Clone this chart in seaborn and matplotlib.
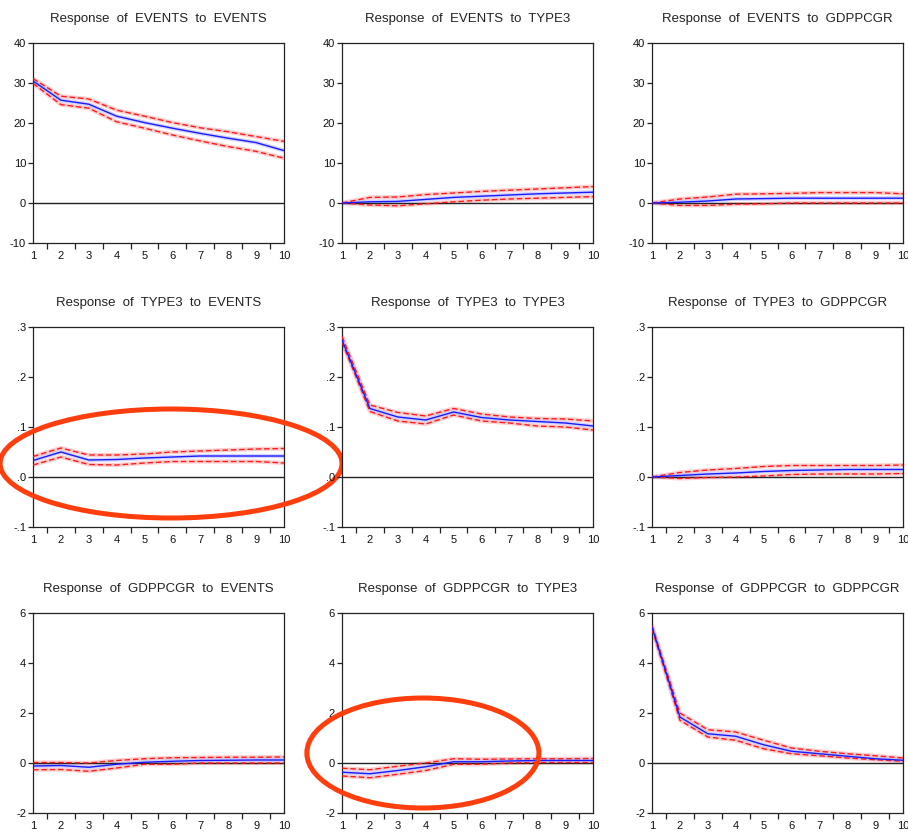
import numpy as np
import pandas as pd
import matplotlib
matplotlib.use("Agg")
import matplotlib.pyplot as plt
from matplotlib.patches import Ellipse
from matplotlib.ticker import FixedLocator, FuncFormatter
import seaborn as sns

sns.set_style("white")
plt.rcParams["font.family"] = ["Liberation Sans", "DejaVu Sans"]

# Impulse-response horizon
periods = list(range(1, 11))
variables = ["EVENTS", "TYPE3", "GDPPCGR"]

# Responses (blue) and +/- 2 S.E. bands (red dashed), one block per (response, impulse)
events_events = [30.5, 25.7, 24.7, 21.7, 20.1, 18.7, 17.4, 16.2, 15.1, 13.1]
events_events_hi = [31.1, 26.7, 26.0, 23.2, 21.7, 20.1, 18.8, 17.8, 16.6, 15.4]
events_events_lo = [29.9, 24.6, 23.7, 20.3, 18.7, 17.0, 15.5, 14.1, 12.9, 11.2]

events_type3 = [0.0, 0.3, 0.4, 0.9, 1.4, 1.7, 2.0, 2.3, 2.5, 2.7]
events_type3_hi = [0.0, 1.4, 1.5, 2.1, 2.5, 2.9, 3.2, 3.5, 3.8, 4.1]
events_type3_lo = [0.0, -0.5, -0.7, -0.2, 0.3, 0.7, 1.0, 1.2, 1.4, 1.6]

events_gdp = [0.0, 0.2, 0.5, 1.0, 1.1, 1.2, 1.2, 1.2, 1.2, 1.2]
events_gdp_hi = [0.0, 1.0, 1.5, 2.2, 2.3, 2.4, 2.6, 2.6, 2.6, 2.3]
events_gdp_lo = [0.0, -0.6, -0.6, -0.3, -0.2, 0.0, 0.0, 0.0, 0.0, 0.0]

type3_events = [0.033, 0.050, 0.034, 0.035, 0.038, 0.040, 0.042, 0.042, 0.042, 0.042]
type3_events_hi = [0.041, 0.058, 0.044, 0.044, 0.046, 0.050, 0.052, 0.054, 0.056, 0.057]
type3_events_lo = [0.024, 0.040, 0.025, 0.024, 0.028, 0.031, 0.031, 0.031, 0.031, 0.028]

type3_type3 = [0.274, 0.137, 0.120, 0.114, 0.130, 0.119, 0.114, 0.111, 0.108, 0.102]
type3_type3_hi = [0.281, 0.144, 0.129, 0.122, 0.137, 0.126, 0.120, 0.117, 0.116, 0.112]
type3_type3_lo = [0.270, 0.131, 0.112, 0.106, 0.124, 0.112, 0.108, 0.102, 0.100, 0.094]

type3_gdp = [0.0, 0.003, 0.006, 0.008, 0.011, 0.013, 0.014, 0.015, 0.015, 0.015]
type3_gdp_hi = [0.0, 0.009, 0.014, 0.017, 0.021, 0.023, 0.023, 0.023, 0.023, 0.024]
type3_gdp_lo = [0.0, -0.003, -0.001, 0.0, 0.002, 0.005, 0.006, 0.006, 0.006, 0.007]

gdp_events = [-0.12, -0.10, -0.17, -0.05, 0.03, 0.07, 0.10, 0.11, 0.12, 0.12]
gdp_events_hi = [0.02, 0.02, 0.0, 0.10, 0.17, 0.21, 0.22, 0.23, 0.23, 0.24]
gdp_events_lo = [-0.27, -0.26, -0.33, -0.20, -0.05, -0.05, 0.0, 0.0, 0.0, 0.0]

gdp_type3 = [-0.37, -0.43, -0.30, -0.15, 0.05, 0.05, 0.08, 0.10, 0.10, 0.10]
gdp_type3_hi = [-0.21, -0.27, -0.13, 0.0, 0.17, 0.15, 0.16, 0.17, 0.17, 0.18]
gdp_type3_lo = [-0.52, -0.59, -0.45, -0.30, -0.05, -0.05, 0.0, 0.02, 0.02, 0.02]

gdp_gdp = [5.44, 1.84, 1.17, 1.07, 0.73, 0.47, 0.37, 0.27, 0.17, 0.11]
gdp_gdp_hi = [5.50, 2.00, 1.33, 1.24, 0.91, 0.60, 0.47, 0.37, 0.29, 0.20]
gdp_gdp_lo = [5.37, 1.71, 1.04, 0.91, 0.57, 0.37, 0.29, 0.20, 0.13, 0.07]

panels = [
    [(events_events, events_events_hi, events_events_lo),
     (events_type3, events_type3_hi, events_type3_lo),
     (events_gdp, events_gdp_hi, events_gdp_lo)],
    [(type3_events, type3_events_hi, type3_events_lo),
     (type3_type3, type3_type3_hi, type3_type3_lo),
     (type3_gdp, type3_gdp_hi, type3_gdp_lo)],
    [(gdp_events, gdp_events_hi, gdp_events_lo),
     (gdp_type3, gdp_type3_hi, gdp_type3_lo),
     (gdp_gdp, gdp_gdp_hi, gdp_gdp_lo)],
]

# y-axis scale per response variable
row_ticks = [[-10, 0, 10, 20, 30, 40],
             [-0.1, 0.0, 0.1, 0.2, 0.3],
             [-2, 0, 2, 4, 6]]


def fmt_decimal(v, _pos):
    s = f"{v:.1f}"
    return s.replace("0.", ".", 1)


fmt_int = FuncFormatter(lambda v, _p: f"{int(round(v))}")
fmt_dec = FuncFormatter(fmt_decimal)

W, H = 908, 833
fig = plt.figure(figsize=(W / 100, H / 100), dpi=100)

col_left = [33, 342, 652]
row_top = [43, 327, 613]
ax_w, ax_h = 251, 200

blue = "#1a1aff"
red = "#ff1a1a"
axes = {}

for r in range(3):
    for c in range(3):
        x0 = col_left[c] / W
        y0 = 1 - (row_top[r] + ax_h) / H
        ax = fig.add_axes([x0, y0, ax_w / W, ax_h / H])
        axes[(r, c)] = ax
        resp, hi, lo = panels[r][c]
        df = pd.DataFrame({"period": periods, "resp": resp, "hi": hi, "lo": lo})

        # soft halo under each line
        for col, colr in (("hi", "#ffb0b0"), ("lo", "#ffb0b0"), ("resp", "#b8b8ff")):
            sns.lineplot(data=df, x="period", y=col, ax=ax, color=colr,
                         linewidth=3.0, alpha=0.6, zorder=2)
        ax.axhline(0, color="#222222", linewidth=1.0, zorder=3)
        for col in ("hi", "lo"):
            sns.lineplot(data=df, x="period", y=col, ax=ax, color=red,
                         linewidth=1.0, linestyle=(0, (4, 2)), zorder=4)
        sns.lineplot(data=df, x="period", y="resp", ax=ax, color=blue,
                     linewidth=1.0, zorder=5)

        ticks = row_ticks[r]
        ax.set_xlim(1, 10)
        ax.set_ylim(ticks[0], ticks[-1])
        ax.set_xlabel("")
        ax.set_ylabel("")
        ax.yaxis.set_major_locator(FixedLocator(ticks))
        ax.yaxis.set_major_formatter(fmt_dec if r == 1 else fmt_int)
        ax.xaxis.set_major_locator(FixedLocator(periods))
        ax.xaxis.set_minor_locator(FixedLocator([p + 0.5 for p in periods[:-1]]))
        ax.tick_params(axis="x", which="major", length=0, pad=6,
                       labelsize=8, labelcolor="#111111")
        ax.tick_params(axis="x", which="minor", length=4.5, width=0.9,
                       direction="out", color="#222222", bottom=True)
        ax.tick_params(axis="y", which="major", length=3.5, width=0.9,
                       direction="out", color="#222222", left=True,
                       labelsize=8, labelcolor="#111111", pad=1.5)
        for sp in ax.spines.values():
            sp.set_color("#222222")
            sp.set_linewidth(0.9)
        ax.set_title(f"Response  of  {variables[r]}  to  {variables[c]}",
                     fontsize=9.5, color="#222222", pad=15)

# Highlight rings around the panels of interest
ring_color = "#ff3d0d"
axes[(1, 0)].add_patch(Ellipse((5.95, 0.027), 12.26, 0.218, fill=False,
                               edgecolor=ring_color, linewidth=3.6,
                               clip_on=False, zorder=10))
axes[(2, 1)].add_patch(Ellipse((3.90, 0.40), 8.32, 4.4, fill=False,
                               edgecolor=ring_color, linewidth=3.6,
                               clip_on=False, zorder=10))

fig.savefig("out.png", dpi=100, facecolor="white")
